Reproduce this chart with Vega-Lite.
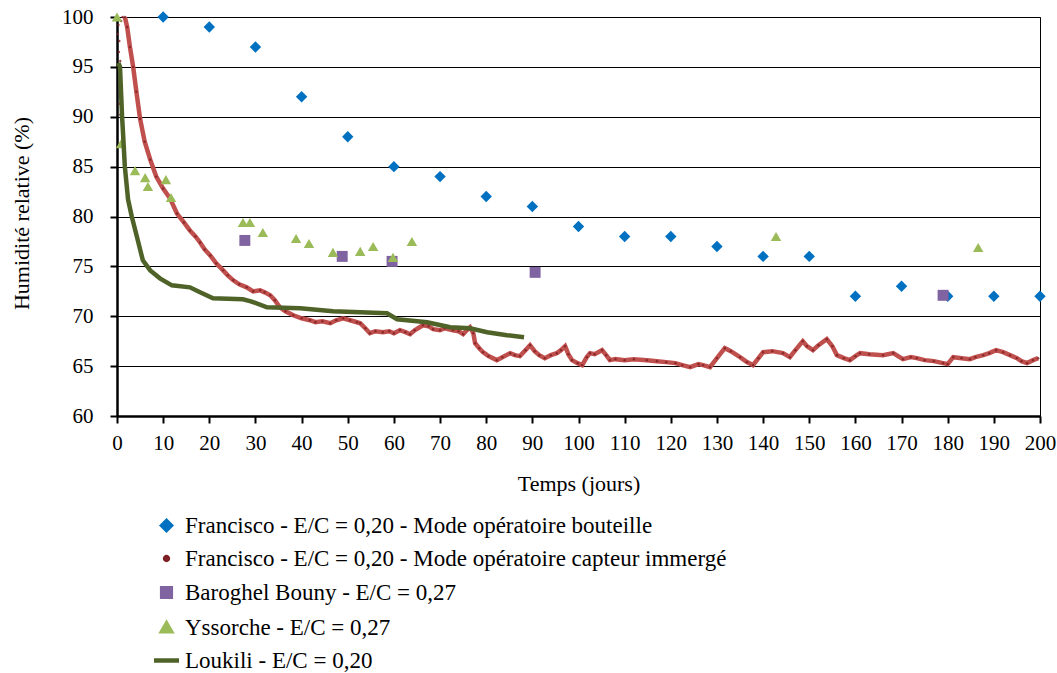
{
  "$schema": "https://vega.github.io/schema/vega-lite/v6.json",
  "width": 923,
  "height": 399,
  "autosize": "none",
  "padding": {"left": 117, "top": 17, "right": 17, "bottom": 257},
  "background": "white",
  "config": {
    "font": "Liberation Serif",
    "view": {"stroke": "#000", "strokeWidth": 1},
    "axis": {"labelFont": "Liberation Serif", "titleFont": "Liberation Serif", "labelColor": "#000", "titleColor": "#000", "titleFontWeight": "normal", "domainColor": "#000", "tickColor": "#000"}
  },
  "datasets": {
    "pts": [
      {"serie": "Francisco - E/C = 0,20 - Mode opératoire bouteille", "jour": 10, "hr": 100},
      {"serie": "Francisco - E/C = 0,20 - Mode opératoire bouteille", "jour": 20, "hr": 99},
      {"serie": "Francisco - E/C = 0,20 - Mode opératoire bouteille", "jour": 30, "hr": 97},
      {"serie": "Francisco - E/C = 0,20 - Mode opératoire bouteille", "jour": 40, "hr": 92},
      {"serie": "Francisco - E/C = 0,20 - Mode opératoire bouteille", "jour": 50, "hr": 88},
      {"serie": "Francisco - E/C = 0,20 - Mode opératoire bouteille", "jour": 60, "hr": 85},
      {"serie": "Francisco - E/C = 0,20 - Mode opératoire bouteille", "jour": 70, "hr": 84},
      {"serie": "Francisco - E/C = 0,20 - Mode opératoire bouteille", "jour": 80, "hr": 82},
      {"serie": "Francisco - E/C = 0,20 - Mode opératoire bouteille", "jour": 90, "hr": 81},
      {"serie": "Francisco - E/C = 0,20 - Mode opératoire bouteille", "jour": 100, "hr": 79},
      {"serie": "Francisco - E/C = 0,20 - Mode opératoire bouteille", "jour": 110, "hr": 78},
      {"serie": "Francisco - E/C = 0,20 - Mode opératoire bouteille", "jour": 120, "hr": 78},
      {"serie": "Francisco - E/C = 0,20 - Mode opératoire bouteille", "jour": 130, "hr": 77},
      {"serie": "Francisco - E/C = 0,20 - Mode opératoire bouteille", "jour": 140, "hr": 76},
      {"serie": "Francisco - E/C = 0,20 - Mode opératoire bouteille", "jour": 150, "hr": 76},
      {"serie": "Francisco - E/C = 0,20 - Mode opératoire bouteille", "jour": 160, "hr": 72},
      {"serie": "Francisco - E/C = 0,20 - Mode opératoire bouteille", "jour": 170, "hr": 73},
      {"serie": "Francisco - E/C = 0,20 - Mode opératoire bouteille", "jour": 180, "hr": 72},
      {"serie": "Francisco - E/C = 0,20 - Mode opératoire bouteille", "jour": 190, "hr": 72},
      {"serie": "Francisco - E/C = 0,20 - Mode opératoire bouteille", "jour": 200, "hr": 72},
      {"serie": "Baroghel Bouny - E/C = 0,27", "jour": 27.7, "hr": 77.6},
      {"serie": "Baroghel Bouny - E/C = 0,27", "jour": 48.8, "hr": 76.0},
      {"serie": "Baroghel Bouny - E/C = 0,27", "jour": 59.6, "hr": 75.5},
      {"serie": "Baroghel Bouny - E/C = 0,27", "jour": 90.6, "hr": 74.4},
      {"serie": "Baroghel Bouny - E/C = 0,27", "jour": 179, "hr": 72.1},
      {"serie": "Yssorche - E/C = 0,27", "jour": 0, "hr": 100},
      {"serie": "Yssorche - E/C = 0,27", "jour": 0.9, "hr": 87.3},
      {"serie": "Yssorche - E/C = 0,27", "jour": 3.9, "hr": 84.6},
      {"serie": "Yssorche - E/C = 0,27", "jour": 6.1, "hr": 83.9},
      {"serie": "Yssorche - E/C = 0,27", "jour": 6.7, "hr": 83.0},
      {"serie": "Yssorche - E/C = 0,27", "jour": 10.6, "hr": 83.7},
      {"serie": "Yssorche - E/C = 0,27", "jour": 11.7, "hr": 81.9},
      {"serie": "Yssorche - E/C = 0,27", "jour": 27.3, "hr": 79.4},
      {"serie": "Yssorche - E/C = 0,27", "jour": 28.8, "hr": 79.4},
      {"serie": "Yssorche - E/C = 0,27", "jour": 31.6, "hr": 78.4},
      {"serie": "Yssorche - E/C = 0,27", "jour": 38.8, "hr": 77.8},
      {"serie": "Yssorche - E/C = 0,27", "jour": 41.6, "hr": 77.3},
      {"serie": "Yssorche - E/C = 0,27", "jour": 46.8, "hr": 76.4},
      {"serie": "Yssorche - E/C = 0,27", "jour": 52.7, "hr": 76.5},
      {"serie": "Yssorche - E/C = 0,27", "jour": 55.5, "hr": 77.0},
      {"serie": "Yssorche - E/C = 0,27", "jour": 59.8, "hr": 75.9},
      {"serie": "Yssorche - E/C = 0,27", "jour": 63.9, "hr": 77.5},
      {"serie": "Yssorche - E/C = 0,27", "jour": 142.8, "hr": 78.0},
      {"serie": "Yssorche - E/C = 0,27", "jour": 186.6, "hr": 76.9}
    ],
    "capteur": [
      {"jour": 0.1, "hr": 100}, {"jour": 0.3, "hr": 99.2}, {"jour": 0.2, "hr": 98.3}, {"jour": 0.5, "hr": 97.6},
      {"jour": 0.4, "hr": 96.5}, {"jour": 0.7, "hr": 95.6}, {"jour": 0.6, "hr": 92.5}, {"jour": 0.5, "hr": 91.3},
      {"jour": 0.7, "hr": 90.2}, {"jour": 0.9, "hr": 99.6}, {"jour": 1.2, "hr": 100},
      {"jour": 1.7, "hr": 100}, {"jour": 2.2, "hr": 99}, {"jour": 2.8, "hr": 97}, {"jour": 3.5, "hr": 95},
      {"jour": 4.2, "hr": 92.5}, {"jour": 5, "hr": 89.8}, {"jour": 6, "hr": 87.5}, {"jour": 7.2, "hr": 85.7},
      {"jour": 8.5, "hr": 84}, {"jour": 10, "hr": 82.8}, {"jour": 11.5, "hr": 81.8}, {"jour": 13, "hr": 80.3},
      {"jour": 14.5, "hr": 79.4}, {"jour": 15.8, "hr": 78.6}, {"jour": 17, "hr": 78}, {"jour": 18, "hr": 77.4},
      {"jour": 19, "hr": 76.7}, {"jour": 20.2, "hr": 76.1}, {"jour": 21.5, "hr": 75.3}, {"jour": 23, "hr": 74.6},
      {"jour": 24, "hr": 74.1}, {"jour": 25.2, "hr": 73.6}, {"jour": 26.5, "hr": 73.2}, {"jour": 28.1, "hr": 72.9},
      {"jour": 29.5, "hr": 72.5}, {"jour": 31, "hr": 72.6}, {"jour": 32, "hr": 72.4}, {"jour": 33.2, "hr": 72.1},
      {"jour": 34.2, "hr": 71.6}, {"jour": 35.3, "hr": 70.9}, {"jour": 36.5, "hr": 70.5}, {"jour": 38.2, "hr": 70.1},
      {"jour": 40, "hr": 69.8}, {"jour": 41.8, "hr": 69.6}, {"jour": 43, "hr": 69.4}, {"jour": 44.5, "hr": 69.5},
      {"jour": 46.2, "hr": 69.3}, {"jour": 47.5, "hr": 69.6}, {"jour": 49, "hr": 69.8}, {"jour": 50.5, "hr": 69.6},
      {"jour": 52, "hr": 69.4}, {"jour": 52.7, "hr": 69.3}, {"jour": 53.8, "hr": 68.8}, {"jour": 54.8, "hr": 68.3},
      {"jour": 56, "hr": 68.5}, {"jour": 57.6, "hr": 68.4}, {"jour": 59, "hr": 68.5}, {"jour": 60, "hr": 68.3},
      {"jour": 61.3, "hr": 68.6}, {"jour": 62.5, "hr": 68.4}, {"jour": 63.5, "hr": 68.2}, {"jour": 64.5, "hr": 68.6},
      {"jour": 66.3, "hr": 69.1}, {"jour": 67.5, "hr": 69.0}, {"jour": 68.5, "hr": 68.7}, {"jour": 70, "hr": 68.6},
      {"jour": 71, "hr": 68.8}, {"jour": 72.8, "hr": 68.6}, {"jour": 74, "hr": 68.5}, {"jour": 75, "hr": 68.2},
      {"jour": 76, "hr": 68.7}, {"jour": 76.5, "hr": 68.9}, {"jour": 77.2, "hr": 68.3}, {"jour": 77.6, "hr": 67.3},
      {"jour": 78.5, "hr": 66.8}, {"jour": 79.3, "hr": 66.4}, {"jour": 80.5, "hr": 66}, {"jour": 82.3, "hr": 65.6},
      {"jour": 83.5, "hr": 65.9}, {"jour": 85.2, "hr": 66.3}, {"jour": 86.2, "hr": 66.1}, {"jour": 87.3, "hr": 66},
      {"jour": 88.5, "hr": 66.6}, {"jour": 89.5, "hr": 67.1}, {"jour": 90.5, "hr": 66.5}, {"jour": 91.5, "hr": 66.1},
      {"jour": 92.7, "hr": 65.8}, {"jour": 94, "hr": 66.1}, {"jour": 95.3, "hr": 66.3}, {"jour": 96.2, "hr": 66.6},
      {"jour": 97.1, "hr": 67}, {"jour": 97.8, "hr": 66.2}, {"jour": 98.6, "hr": 65.6}, {"jour": 99.8, "hr": 65.3},
      {"jour": 100.8, "hr": 65.1}, {"jour": 101.8, "hr": 65.9}, {"jour": 102.5, "hr": 66.3}, {"jour": 103.5, "hr": 66.2},
      {"jour": 105.1, "hr": 66.6}, {"jour": 106, "hr": 66.1}, {"jour": 106.8, "hr": 65.6}, {"jour": 108, "hr": 65.7},
      {"jour": 110, "hr": 65.6}, {"jour": 112, "hr": 65.7}, {"jour": 114.8, "hr": 65.6}, {"jour": 117, "hr": 65.5},
      {"jour": 119, "hr": 65.4}, {"jour": 121, "hr": 65.3}, {"jour": 122.5, "hr": 65.1}, {"jour": 124.2, "hr": 64.9},
      {"jour": 126, "hr": 65.2}, {"jour": 127, "hr": 65.1}, {"jour": 128.5, "hr": 64.9}, {"jour": 130, "hr": 65.8},
      {"jour": 131.7, "hr": 66.8}, {"jour": 133, "hr": 66.5}, {"jour": 135, "hr": 65.9}, {"jour": 136.5, "hr": 65.4},
      {"jour": 137.8, "hr": 65.1}, {"jour": 139, "hr": 65.8}, {"jour": 140, "hr": 66.4}, {"jour": 142, "hr": 66.5},
      {"jour": 144.3, "hr": 66.3}, {"jour": 145.8, "hr": 65.9}, {"jour": 147, "hr": 66.6}, {"jour": 148.6, "hr": 67.5},
      {"jour": 149.5, "hr": 67.0}, {"jour": 150.8, "hr": 66.6}, {"jour": 152, "hr": 67.1}, {"jour": 153.8, "hr": 67.7},
      {"jour": 155, "hr": 67.0}, {"jour": 156, "hr": 66.1}, {"jour": 157.5, "hr": 65.8}, {"jour": 158.8, "hr": 65.6},
      {"jour": 160, "hr": 66.0}, {"jour": 161, "hr": 66.3}, {"jour": 163, "hr": 66.2}, {"jour": 166, "hr": 66.1},
      {"jour": 168.2, "hr": 66.3}, {"jour": 170.3, "hr": 65.7}, {"jour": 172, "hr": 65.9}, {"jour": 173.3, "hr": 65.8},
      {"jour": 175, "hr": 65.6}, {"jour": 177, "hr": 65.5}, {"jour": 179, "hr": 65.3}, {"jour": 180, "hr": 65.2},
      {"jour": 181.2, "hr": 65.9}, {"jour": 183, "hr": 65.8}, {"jour": 184.8, "hr": 65.7}, {"jour": 186, "hr": 65.9},
      {"jour": 187.7, "hr": 66.1}, {"jour": 189, "hr": 66.3}, {"jour": 190.5, "hr": 66.6}, {"jour": 192, "hr": 66.4},
      {"jour": 193.5, "hr": 66.1}, {"jour": 195, "hr": 65.8}, {"jour": 196, "hr": 65.5}, {"jour": 197.2, "hr": 65.3},
      {"jour": 198.5, "hr": 65.6}, {"jour": 199.6, "hr": 65.8}
    ],
    "loukili": [
      {"jour": 0.3, "hr": 95.4}, {"jour": 0.65, "hr": 95}, {"jour": 1.1, "hr": 90}, {"jour": 1.3, "hr": 88.4},
      {"jour": 1.7, "hr": 85}, {"jour": 2.4, "hr": 81.7}, {"jour": 3.2, "hr": 80}, {"jour": 4.3, "hr": 78},
      {"jour": 5.6, "hr": 75.6}, {"jour": 7.2, "hr": 74.6}, {"jour": 9.3, "hr": 73.8}, {"jour": 11.9, "hr": 73.1},
      {"jour": 15.8, "hr": 72.9}, {"jour": 18, "hr": 72.4}, {"jour": 20.8, "hr": 71.8}, {"jour": 27.3, "hr": 71.7},
      {"jour": 29, "hr": 71.5}, {"jour": 32.5, "hr": 70.9}, {"jour": 39.7, "hr": 70.8}, {"jour": 46.8, "hr": 70.5},
      {"jour": 58.5, "hr": 70.3}, {"jour": 60.7, "hr": 69.7}, {"jour": 67.2, "hr": 69.4}, {"jour": 72.2, "hr": 68.9},
      {"jour": 76.5, "hr": 68.8}, {"jour": 80.2, "hr": 68.4}, {"jour": 84.5, "hr": 68.1}, {"jour": 88.2, "hr": 67.9}
    ]
  },
  "encoding": {
    "x": {"field": "jour", "type": "quantitative",
      "scale": {"domain": [0, 200], "nice": false, "zero": false},
      "axis": {"values": [0,10,20,30,40,50,60,70,80,90,100,110,120,130,140,150,160,170,180,190,200],
        "title": "Temps (jours)", "labelFontSize": 21, "titleFontSize": 22, "tickSize": 7, "tickWidth": 2,
        "domainWidth": 2.5, "labelPadding": 9, "titlePadding": 20, "grid": false, "labelFlush": false}},
    "y": {"field": "hr", "type": "quantitative",
      "scale": {"domain": [60, 100], "nice": false, "zero": false},
      "axis": {"values": [60,65,70,75,80,85,90,95,100], "title": "Humidité relative (%)",
        "labelFontSize": 21, "titleFontSize": 22, "tickSize": 7, "tickWidth": 2, "domainWidth": 2.5,
        "labelPadding": 17, "titleX": -84, "titleY": 196, "titleAngle": 270, "titleBaseline": "bottom", "titleAlign": "center",
        "grid": true, "gridColor": "#000", "gridWidth": 1, "gridOpacity": 1}}
  },
  "layer": [
    {
      "data": {"name": "pts"},
      "transform": [{"filter": "datum.serie === 'Francisco - E/C = 0,20 - Mode opératoire bouteille'"}],
      "mark": {"type": "point", "filled": true, "shape": "diamond", "size": 130, "opacity": 1},
      "encoding": {"color": {"field": "serie", "type": "nominal"}}
    },
    {
      "data": {"name": "capteur"},
      "transform": [{"filter": "datum.jour >= 1.5"}],
      "mark": {"type": "line", "color": "#c0504d", "strokeWidth": 4.5},
      "encoding": {}
    },
    {
      "data": {"name": "capteur"},
      "transform": [{"calculate": "'Francisco - E/C = 0,20 - Mode opératoire capteur immergé'", "as": "serie"}],
      "mark": {"type": "point", "filled": true, "shape": "circle", "size": 6, "opacity": 0.8},
      "encoding": {"color": {"field": "serie", "type": "nominal"}}
    },
    {
      "data": {"name": "pts"},
      "transform": [{"filter": "datum.serie === 'Baroghel Bouny - E/C = 0,27'"}],
      "mark": {"type": "point", "filled": true, "shape": "square", "size": 120, "opacity": 1},
      "encoding": {"color": {"field": "serie", "type": "nominal"}}
    },
    {
      "data": {"name": "pts"},
      "transform": [{"filter": "datum.serie === 'Yssorche - E/C = 0,27'"}],
      "mark": {"type": "point", "filled": true, "shape": "triangle-up", "size": 110, "opacity": 1},
      "encoding": {"color": {"field": "serie", "type": "nominal"}}
    },
    {
      "data": {"name": "loukili"},
      "transform": [{"calculate": "'Loukili - E/C = 0,20'", "as": "serie"}],
      "mark": {"type": "line", "strokeWidth": 4.5},
      "encoding": {"color": {"field": "serie", "type": "nominal",
        "scale": {"domain": ["Francisco - E/C = 0,20 - Mode opératoire bouteille", "Francisco - E/C = 0,20 - Mode opératoire capteur immergé", "Baroghel Bouny - E/C = 0,27", "Yssorche - E/C = 0,27", "Loukili - E/C = 0,20"],
          "range": ["#0070c0", "#7b1f24", "#8064a2", "#9bbb59", "#4f6228"]},
        "legend": {"orient": "none", "legendX": 38, "legendY": 497, "direction": "vertical", "title": null,
          "labelFont": "Liberation Serif", "labelFontSize": 23, "labelColor": "#000", "labelLimit": 800, "rowPadding": 8, "labelOffset": 7,
          "symbolSize": 60, "symbolStrokeWidth": 0,
          "encode": {"symbols": {"update": {
            "shape": {"signal": "datum.value === 'Loukili - E/C = 0,20' ? 'stroke' : datum.value === 'Baroghel Bouny - E/C = 0,27' ? 'square' : datum.value === 'Yssorche - E/C = 0,27' ? 'triangle-up' : datum.value === 'Francisco - E/C = 0,20 - Mode opératoire bouteille' ? 'diamond' : 'circle'"},
            "size": {"signal": "datum.value === 'Loukili - E/C = 0,20' ? 625 : datum.value === 'Francisco - E/C = 0,20 - Mode opératoire capteur immergé' ? 8 : 75"},
            "stroke": {"signal": "datum.value === 'Loukili - E/C = 0,20' ? '#4f6228' : 'transparent'"},
            "strokeWidth": {"value": 4.5},
            "opacity": {"value": 1}
          }}}
        }}}
    }
  ]
}
